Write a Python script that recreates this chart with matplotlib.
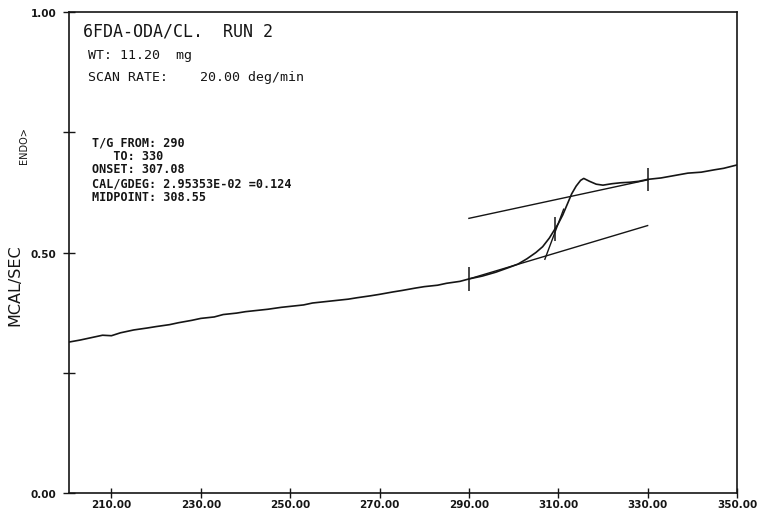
import numpy as np
import matplotlib
matplotlib.use('Agg')
import matplotlib.pyplot as plt

# DSC scan: temperature (deg) vs heat flow (mcal/sec)
temp = [200.6, 203, 205, 208, 210, 212, 215, 218, 220, 223, 225, 228, 230,
        233, 235, 238, 240, 243, 245, 248, 250, 253, 255, 258, 260, 263,
        265, 268, 270, 273, 275, 278, 280, 283, 285, 288, 290, 293, 296,
        299, 301, 303, 305, 306.5, 308, 309, 310, 311, 312, 313, 314, 315,
        315.7, 317, 318.5, 320, 322, 324, 326, 328, 330, 333, 336, 339,
        342, 345, 347, 350]
heat = [0.314, 0.318, 0.322, 0.328, 0.327, 0.333, 0.339, 0.343, 0.346,
        0.350, 0.354, 0.359, 0.363, 0.366, 0.371, 0.374, 0.377, 0.380,
        0.382, 0.386, 0.388, 0.391, 0.395, 0.398, 0.400, 0.403, 0.406,
        0.410, 0.413, 0.418, 0.421, 0.426, 0.429, 0.432, 0.436, 0.440,
        0.445, 0.451, 0.459, 0.469, 0.476, 0.487, 0.500, 0.512, 0.530,
        0.545, 0.560, 0.578, 0.600, 0.622, 0.638, 0.650, 0.654, 0.648,
        0.642, 0.640, 0.643, 0.645, 0.646, 0.648, 0.652, 0.655, 0.660,
        0.665, 0.667, 0.672, 0.675, 0.682]

# construction lines
lower_base_x = [290, 330]
lower_base_y = [0.445, 0.556]
upper_base_x = [290, 330]
upper_base_y = [0.571, 0.651]
tangent_x = [307.0, 311.2]
tangent_y = [0.486, 0.590]

# vertical marks at the limits and the midpoint
marks_x = [290, 309.2, 330]
marks_lo = [0.420, 0.524, 0.627]
marks_hi = [0.470, 0.574, 0.675]

xticks = [210, 230, 250, 270, 290, 310, 330, 350]
yticks = [0.0, 0.5, 1.0]
yminor = [0.25, 0.75]

header = ['6FDA-ODA/CL.  RUN 2', 'WT: 11.20  mg', 'SCAN RATE:    20.00 deg/min']
stats = ['T/G FROM: 290', '   TO: 330', 'ONSET: 307.08',
         'CAL/GDEG: 2.95353E-02 =0.124', 'MIDPOINT: 308.55']

ink = '#151515'
fig = plt.figure(figsize=(7.61, 5.10), dpi=100)
ax = fig.add_axes([69/761, 1-494/510, (737-69)/761, (494-13)/510])

ax.plot(temp, heat, color=ink, lw=1.2)
ax.plot(lower_base_x, lower_base_y, color=ink, lw=1.0)
ax.plot(upper_base_x, upper_base_y, color=ink, lw=1.0)
ax.plot(tangent_x, tangent_y, color=ink, lw=1.0)
ax.vlines(marks_x, marks_lo, marks_hi, color=ink, lw=1.1)

ax.set_xlim(200.5, 350)
ax.set_ylim(0, 1.0)
ax.set_xticks(xticks)
ax.set_xticklabels(['%.2f' % v for v in xticks])
ax.set_yticks(yticks)
ax.set_yticklabels(['%.2f' % v for v in yticks])
ax.set_yticks(yminor, minor=True)
ax.tick_params(axis='both', which='both', direction='inout', color=ink,
               labelcolor=ink, labelsize=7.5, width=1.0)
ax.tick_params(axis='x', which='major', length=7, pad=1)
ax.tick_params(axis='y', which='both', length=8, pad=5)
for lab in ax.get_xticklabels() + ax.get_yticklabels():
    lab.set_fontweight('bold')
for s in ax.spines.values():
    s.set_color(ink)
    s.set_linewidth(1.2)

fig.text(15/761, 1-285/510, 'MCAL/SEC', rotation=90, ha='center', va='center',
         fontsize=11.5, color=ink)
fig.text(24/761, 1-146/510, 'ENDO>', rotation=90, ha='center', va='center',
         fontsize=7, color=ink)

mono = 'DejaVu Sans Mono'
fig.text(83/761, 1-32/510, header[0], ha='left', va='center', fontsize=12,
         color=ink, family=mono)
fig.text(88/761, 1-56/510, header[1], ha='left', va='center', fontsize=9.5,
         color=ink, family=mono)
fig.text(88/761, 1-77/510, header[2], ha='left', va='center', fontsize=9.5,
         color=ink, family=mono)

ys = [143, 156, 170, 184, 198]
for s, y in zip(stats, ys):
    fig.text(92/761, 1-y/510, s, ha='left', va='center', fontsize=8.5,
             color=ink, fontweight='bold', family=mono)

fig.savefig('out.png', dpi=100, facecolor='white')
